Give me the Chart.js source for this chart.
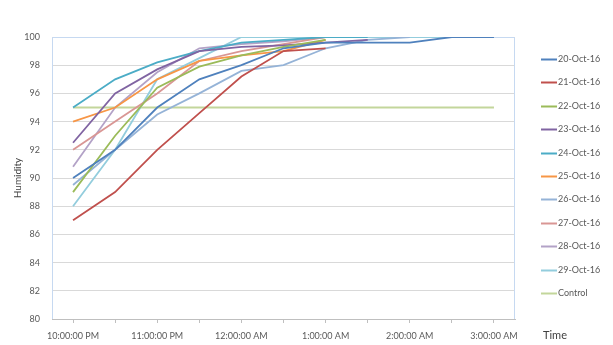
<!DOCTYPE html>
<html>
<head>
<meta charset="utf-8">
<script src="https://cdn.jsdelivr.net/npm/chart.js@4"></script>
<style>
  html, body { margin: 0; padding: 0; background: #fff; }
  #wrap { width: 613px; height: 345px; }
</style>
</head>
<body>
<div id="wrap"><canvas id="MyChart1" width="613" height="345"></canvas></div>
<script>
var times = ['10:00:00 PM', '10:30:00 PM', '11:00:00 PM', '11:30:00 PM', '12:00:00 AM', '12:30:00 AM',
             '1:00:00 AM', '1:30:00 AM', '2:00:00 AM', '2:30:00 AM', '3:00:00 AM'];

var oct20   = [90, 92, 95, 97, 98, 99.2, 99.6, 99.6, 99.6, 100, 100];
var oct21   = [87, 89, 92, 94.6, 97.2, 99, 99.2, null, null, null, null];
var oct22   = [89, 93, 96.4, 97.9, 98.7, 99.3, 99.8, null, null, null, null];
var oct23   = [92.5, 96, 97.7, 99, 99.3, 99.4, 99.6, 99.8, null, null, null];
var oct24   = [95, 97, 98.2, 99, 99.6, 99.8, 100, 100, null, null, null];
var oct25   = [94, 95, 97, 98.3, 98.7, 99, 99.8, null, null, null, null];
var oct26   = [89.5, 92, 94.5, 96, 97.6, 98, 99.2, 99.8, 100, null, null];
var oct27   = [92, 94, 96, 98.3, 99, 99.5, 100, null, null, null, null];
var oct28   = [90.8, 95, 97.5, 99.2, 99.5, 99.7, 100, null, null, null, null];
var oct29   = [88, 92, 97, 98.5, 100, 100, 100, 100, 100, 100, 100];
var control = [95, 95, 95, 95, 95, 95, 95, 95, 95, 95, 95];

var seriesNames  = ['20-Oct-16', '21-Oct-16', '22-Oct-16', '23-Oct-16', '24-Oct-16', '25-Oct-16',
                    '26-Oct-16', '27-Oct-16', '28-Oct-16', '29-Oct-16', 'Control'];
var seriesValues = [oct20, oct21, oct22, oct23, oct24, oct25, oct26, oct27, oct28, oct29, control];
var seriesColors = ['#4f81bd', '#c0504d', '#9bbb59', '#8064a2', '#4bacc6', '#f79646',
                    '#95b3d7', '#d99694', '#b3a2c7', '#93cddd', '#c3d69b'];

var chart = document.getElementById('MyChart1').getContext('2d');

var datasets = seriesNames.map(function (name, i) {
  return {
    label: name,
    data: seriesValues[i],
    borderColor: seriesColors[i],
    backgroundColor: seriesColors[i],
    borderWidth: 1.8,
    pointRadius: 0,
    tension: 0,
    fill: false
  };
});

// plot area frame, right-hand legend and "Time" caption, Excel style
var frame = {
  id: 'frame',
  beforeDatasetsDraw: function (c) {
    var a = c.chartArea, ctx = c.ctx;
    ctx.save();
    ctx.strokeStyle = '#c6d9f1';
    ctx.lineWidth = 1;
    ctx.beginPath();
    ctx.moveTo(a.left + 0.5, a.bottom);
    ctx.lineTo(a.left + 0.5, a.top + 0.5);
    ctx.lineTo(a.right - 0.5, a.top + 0.5);
    ctx.lineTo(a.right - 0.5, a.bottom);
    ctx.stroke();
    ctx.restore();
  },
  afterDraw: function (c) {
    var a = c.chartArea, ctx = c.ctx;
    ctx.save();
    // legend
    ctx.font = '9px Lato';
    ctx.textAlign = 'left';
    ctx.textBaseline = 'middle';
    c.data.datasets.forEach(function (ds, i) {
      var y = Math.round(a.top + 22 + i * 23.4) + 0.5;
      ctx.strokeStyle = ds.borderColor;
      ctx.lineWidth = 2;
      ctx.beginPath();
      ctx.moveTo(a.right + 26, y);
      ctx.lineTo(a.right + 42, y);
      ctx.stroke();
      ctx.fillStyle = '#595959';
      ctx.fillText(ds.label, a.right + 43, y);
    });
    // axis caption
    ctx.fillStyle = '#404040';
    ctx.font = '11px Lato';
    ctx.fillText('Time', a.right + 28, a.bottom + 16);
    ctx.restore();
  }
};

var options = {
  responsive: false,
  animation: false,
  layout: { padding: { top: 37, right: 98, bottom: 0, left: 0 } },
  scales: {
    x: {
      offset: true,
      grid: { drawOnChartArea: false, drawTicks: true, tickLength: 4, color: '#bfbfbf', offset: false },
      border: { color: '#bfbfbf' },
      ticks: {
        color: '#595959',
        font: { family: 'Lato', size: 9 },
        autoSkip: false,
        maxRotation: 0,
        padding: 8,
        callback: function (v, i) { return i % 2 === 0 ? times[i] : ''; }
      },
      afterFit: function (scale) { scale.height = 26; }
    },
    y: {
      min: 80,
      max: 100,
      ticks: { stepSize: 2, color: '#595959', font: { family: 'Lato', size: 9 }, padding: 12 },
      grid: { color: '#d9d9d9', lineWidth: 1, drawTicks: false },
      border: { display: false },
      title: { display: true, text: 'Humidity', color: '#404040', font: { family: 'Lato', size: 10 }, padding: { top: 12, bottom: 2 } },
      afterFit: function (scale) { scale.width = 52; }
    }
  },
  plugins: {
    tooltip: { enabled: false },
    legend: { display: false }
  }
};

var chartInstance = new Chart(chart, {
  type: 'line',
  data: { labels: times, datasets: datasets },
  options: options,
  plugins: [frame]
});
</script>
</body>
</html>
